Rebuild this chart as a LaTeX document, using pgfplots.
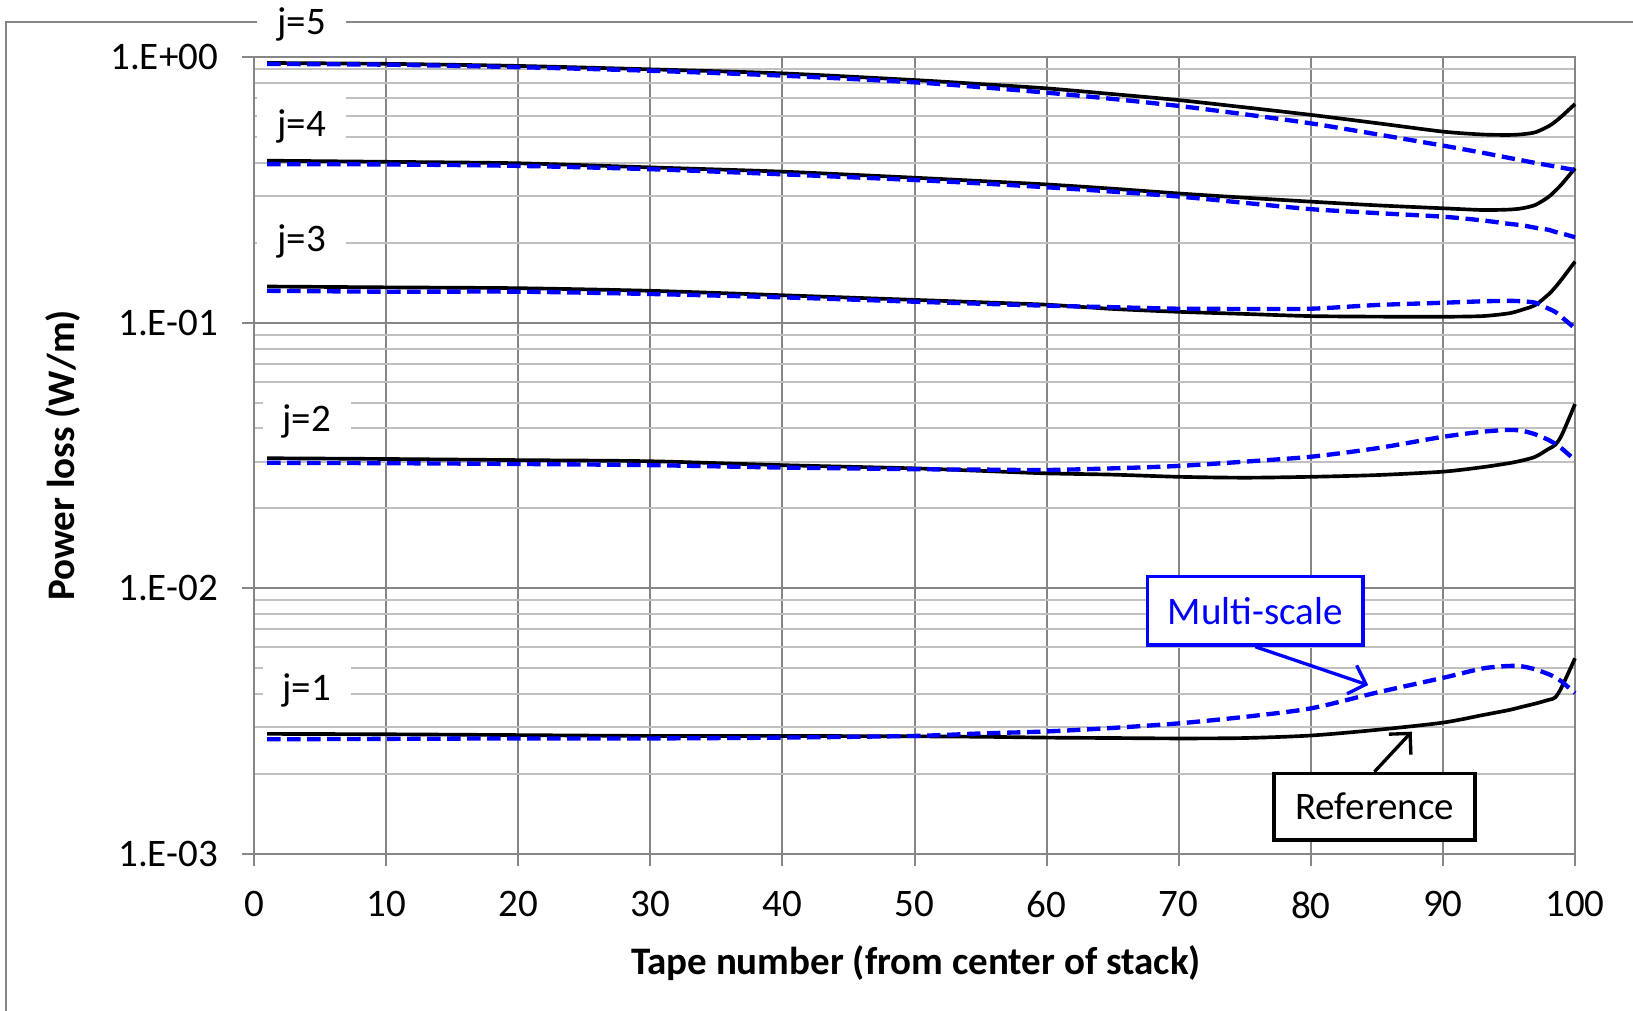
\documentclass[border=0pt]{standalone}
\usepackage{pgfplots}
\usepackage{pgfplotstable}
\pgfplotsset{compat=1.18}
\usepackage{fontspec}
\setmainfont{Carlito}
\usetikzlibrary{arrows.meta}
\definecolor{majgrid}{RGB}{134,134,134}
\definecolor{mingrid}{RGB}{192,192,192}
\definecolor{msblue}{RGB}{0,0,255}

% Reference (black solid)
\pgfplotstableread{
x     j1       j2      j3      j4      j5
1     0.00283  0.0309  0.137   0.408   0.952
10    0.00282  0.0307  0.136   0.404   0.945
20    0.00280  0.0304  0.135   0.399   0.928
30    0.00278  0.0301  0.132   0.385   0.901
40    0.00278  0.0291  0.127   0.371   0.870
50    0.00277  0.0283  0.122   0.352   0.821
55    0.00276  0.0277  0.1195  0.342   0.793
60    0.00274  0.0271  0.117   0.332   0.764
65    0.00273  0.0268  0.1128  0.320   0.727
70    0.00272  0.0263  0.110   0.307   0.690
75    0.00273  0.0261  0.108   0.296   0.648
80    0.00279  0.0263  0.106   0.286   0.607
85    0.00293  0.0267  0.1055  0.277   0.565
90    0.00312  0.0275  0.1054  0.270   0.525
93    0.00333  0.0286  0.106   0.266   0.512
95    0.00348  0.0296  0.1086  0.267   0.510
96    0.00358  0.0303  0.112   0.270   0.513
97    0.00368  0.0313  0.1167  0.278   0.522
98    0.00380  0.0335  0.128   0.298   0.550
98.5  0.00388  0.0347  0.136   0.314   0.572
99    0.00425  0.0378  0.146   0.333   0.600
100   0.00545  0.0494  0.170   0.382   0.667
}\refdata

% Multi-scale (blue dashed)
\pgfplotstableread{
x     j1       j2      j3      j4      j5
1     0.00270  0.0297  0.132   0.396   0.944
10    0.00271  0.0296  0.131   0.395   0.938
20    0.00272  0.0294  0.131   0.390   0.918
30    0.00272  0.0291  0.1284  0.379   0.890
40    0.00274  0.0285  0.1247  0.3625  0.853
50    0.00278  0.0281  0.1201  0.345   0.805
55    0.00284  0.0280  0.118   0.335   0.772
60    0.00289  0.0279  0.116   0.324   0.736
65    0.00298  0.0283  0.1145  0.312   0.697
70    0.00310  0.0289  0.113   0.299   0.656
75    0.00328  0.0300  0.1128  0.283   0.610
80    0.00353  0.0313  0.113   0.268   0.564
85    0.00405  0.0337  0.1167  0.259   0.513
90    0.00460  0.0372  0.119   0.251   0.465
93    0.00499  0.0389  0.1205  0.243   0.437
95    0.00510  0.0395  0.121   0.236   0.418
96    0.00508  0.0392  0.1205  0.233   0.409
97    0.00495  0.0380  0.119   0.228   0.400
98    0.00475  0.0362  0.113   0.224   0.392
98.5  0.00462  0.0350  0.110   0.220   0.388
99    0.00445  0.0336  0.105   0.217   0.384
100   0.00403  0.0304  0.0953  0.210   0.376
}\msdata

\begin{document}
\begin{tikzpicture}[font=\fontsize{11.7}{14}\selectfont]
\useasboundingbox (-76.2pt,-46.86pt) rectangle (413.7pt,256.14pt);
% outer chart-area frame
\draw[majgrid, line width=0.6pt] (-74.4pt,-50pt) -- (-74.4pt,249.54pt) -- (420pt,249.54pt);
\node[fill=white, inner xsep=6pt, inner ysep=2pt, anchor=base] at (14.3pt,245.9pt) {j=5};
\begin{axis}[
  at={(0pt,0pt)}, anchor=south west,
  scale only axis, width=396.3pt, height=238.95pt,
  ymode=log, xmin=0, xmax=100, ymin=1e-3, ymax=1,
  xtick={0,10,...,100},
  ytick={1e-3,1e-2,1e-1,1},
  yticklabels={1.E-03,1.E-02,1.E-01,1.E+00},
  minor ytick={2e-3,3e-3,4e-3,5e-3,6e-3,7e-3,8e-3,9e-3,
               2e-2,3e-2,4e-2,5e-2,6e-2,7e-2,8e-2,9e-2,
               2e-1,3e-1,4e-1,5e-1,6e-1,7e-1,8e-1,9e-1},
  /pgf/number format/assume math mode=true,
  grid=both,
  major grid style={majgrid, line width=0.6pt},
  minor grid style={mingrid, line width=0.6pt},
  axis line style={majgrid, line width=0.6pt},
  tick style={majgrid, line width=0.6pt},
  major tick length=3.6pt, minor tick length=0pt,
  tick align=outside,
  xtick pos=bottom, ytick pos=left,
  ticklabel style={font=\fontsize{11.7}{14}\selectfont, text=black},
  yticklabel style={anchor=east, inner sep=0pt, xshift=-7pt},
  xticklabel style={anchor=north, inner sep=0pt, yshift=-7.5pt},
  clip=false,
]
% j labels (white boxes hide the grid behind them)
\node[fill=white, inner xsep=6pt, inner ysep=4pt, anchor=base] at (axis cs:3.6,0.502) {j=4};
\node[fill=white, inner xsep=6pt, inner ysep=4pt, anchor=base] at (axis cs:3.6,0.1853) {j=3};
\node[fill=white, inner xsep=6pt, inner ysep=4pt, anchor=base] at (axis cs:4.0,0.0389) {j=2};
\node[fill=white, inner xsep=6pt, inner ysep=4pt, anchor=base] at (axis cs:4.0,0.003772) {j=1};
\foreach \c in {j1,j2,j3,j4,j5}{
  \addplot[black, line width=1.1pt, smooth, tension=0.45, line join=round] table[x=x, y=\c] {\refdata};
}
\foreach \c in {j1,j2,j3,j4,j5}{
  \addplot[msblue, line width=1.3pt, smooth, tension=0.45, dash pattern=on 4pt off 2pt] table[x=x, y=\c] {\msdata};
}
% annotation boxes
\node[draw=msblue, line width=1pt, fill=white, text=msblue, minimum width=64.7pt, minimum height=20.5pt, inner sep=0pt] (ms) at (axis cs:75.8,0.00822) {Multi-scale};
\draw[msblue, line width=1pt, -{Straight Barb[length=4.5pt,width=9pt]}] (ms.south) -- (axis cs:84.35,0.00432);
\node[draw=black, line width=1pt, fill=white, minimum width=60.3pt, minimum height=20pt, inner sep=0pt] (rf) at (axis cs:84.82,0.001504) {Reference};
\draw[black, line width=1pt, -{Straight Barb[length=4.5pt,width=9pt]}] (rf.north) -- (axis cs:87.64,0.002884);
\end{axis}
\node[rotate=90, font=\fontsize{11.7}{14}\selectfont\bfseries] at (-57.4pt,119.5pt) {Power loss (W/m)};
\node[font=\fontsize{11.7}{14}\selectfont\bfseries] at (198.6pt,-32.9pt) {Tape number (from center of stack)};
\end{tikzpicture}
\end{document}
